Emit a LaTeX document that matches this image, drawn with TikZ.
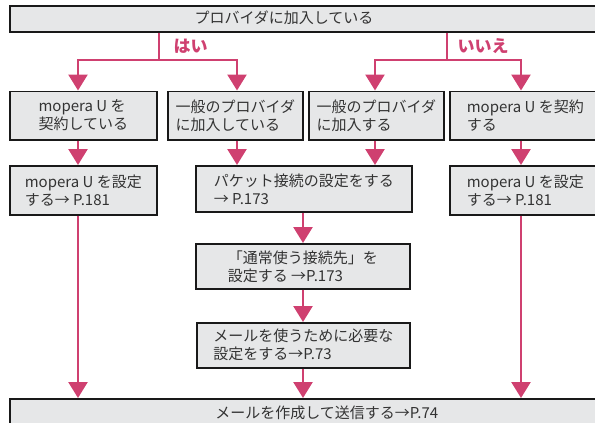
\documentclass[tikz,border=0pt]{standalone}
\usepackage{fontspec}
\setmainfont{Noto Sans CJK JP}
\usetikzlibrary{arrows.meta}
\definecolor{flowpink}{RGB}{207,64,112}
\definecolor{boxgray}{RGB}{230,231,232}
\definecolor{inkgray}{RGB}{51,51,51}

\begin{document}
\begin{tikzpicture}[x=1pt, y=-1pt,
  every node/.style={font=\fontsize{15}{18}\selectfont, text=inkgray},
  stepbox/.style={draw=black!90, line width=1.6pt, fill=boxgray, align=left, inner sep=0pt, anchor=north west},
  flow/.style={flowpink, line width=2.6pt},
  flowarrow/.style={flow, -{Triangle[length=16pt,width=19pt]}},
  answer/.style={text=flowpink, font=\fontsize{17}{20}\selectfont\bfseries, anchor=west}]

\useasboundingbox (0,0) rectangle (595,423);
\clip (0,0) rectangle (595,423);

% Question
\node[stepbox, minimum width=600, minimum height=26] (q) at (9,5) {};
\node (qtext) at (284,18) {プロバイダに加入している};

% Answer columns
\coordinate (colA) at (78,0);
\coordinate (colB) at (237,0);
\coordinate (colC) at (375,0);
\coordinate (colD) at (521,0);
\coordinate (colM) at (303,0);

% First row
\node[stepbox, minimum width=147, minimum height=48.5] (a) at (9,90.5) {mopera U を\\契約している};
\node[stepbox, minimum width=135, minimum height=48.5] (b) at (167,90.5) {一般のプロバイダ\\に加入している};
\node[stepbox, minimum width=135, minimum height=48.5] (c) at (308,90.5) {一般のプロバイダ\\に加入する};
\node[stepbox, minimum width=151, minimum height=48.5] (d) at (449,90.5) {mopera U を契約\\する};

% Settings
\node[stepbox, minimum width=147, minimum height=49] (a2) at (9,165) {mopera U を設定\\する→ P.181};
\node[stepbox, minimum width=216, minimum height=46] (b2) at (195,165) {パケット接続の設定をする\\→ P.173};
\node[stepbox, minimum width=151, minimum height=49] (d2) at (449,165) {mopera U を設定\\する→ P.181};
\node[stepbox, minimum width=214, minimum height=45] (b3) at (195,243) {「通常使う接続先」を\\設定する →P.173};
\node[stepbox, minimum width=213, minimum height=45] (b4) at (196,322) {メールを使うために必要な\\設定をする→P.73};

% Final step
\node[stepbox, align=center, minimum width=634, minimum height=28] (mail) at (9,398) {メールを作成して送信する→P.74};

% Branches
\coordinate (yes) at (159,60);
\coordinate (no) at (447,60);
\node[answer] (yeslabel) at (170,46) {はい};
\node[answer] (nolabel) at (454,46) {いいえ};

\draw[flow] (q.south -| yes) -- (yes);
\draw[flowarrow] (yes) -| (a.north -| colA);
\draw[flowarrow] (yes) -| (b.north -| colB);
\draw[flow] (q.south -| no) -- (no);
\draw[flowarrow] (no) -| (c.north -| colC);
\draw[flowarrow] (no) -| (d.north -| colD);

\draw[flowarrow] (a.south -| colA) -- (a2.north -| colA);
\draw[flowarrow] (b.south -| colB) -- (b2.north -| colB);
\draw[flowarrow] (c.south -| colC) -- (b2.north -| colC);
\draw[flowarrow] (d.south -| colD) -- (d2.north -| colD);

\draw[flowarrow] (b2.south -| colM) -- (b3.north -| colM);
\draw[flowarrow] (b3.south -| colM) -- (b4.north -| colM);

\draw[flowarrow] (a2.south -| colA) -- (mail.north -| colA);
\draw[flowarrow] (b4.south -| colM) -- (mail.north -| colM);
\draw[flowarrow] (d2.south -| colD) -- (mail.north -| colD);

\end{tikzpicture}
\end{document}
